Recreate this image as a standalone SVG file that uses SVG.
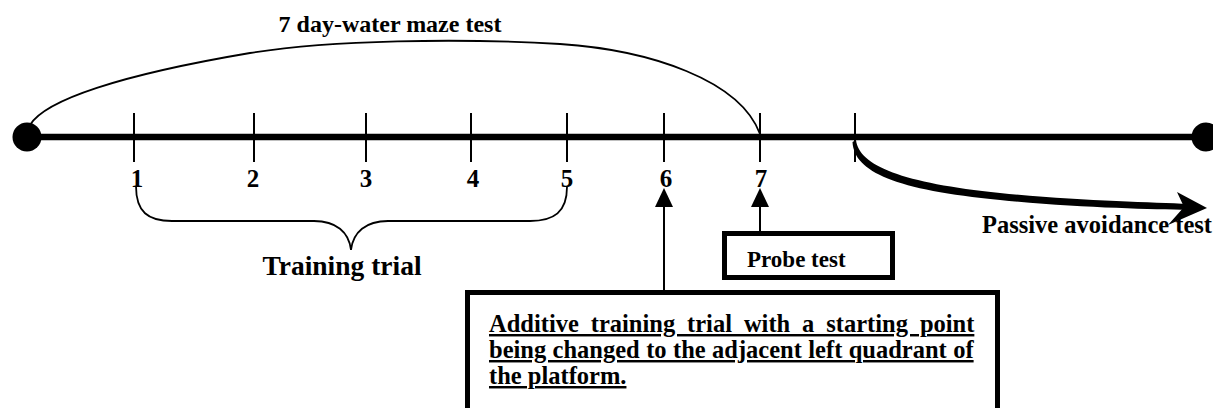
<svg xmlns="http://www.w3.org/2000/svg" width="1213" height="408" viewBox="0 0 1213 408">
  <style>
    .lbl { font-family: "Liberation Serif", "Times New Roman", serif; font-weight: bold; fill: #000; }
    .tick { stroke: #000; stroke-width: 2; fill: none; }
    .thin { stroke: #000; stroke-width: 1.8; fill: none; }
    .box { stroke: #000; stroke-width: 5; fill: #fff; }
    .num { font-size: 25px; text-anchor: middle; }
  </style>
  <defs>
    <clipPath id="boxClip">
      <rect x="470" y="295" width="505" height="113"/>
    </clipPath>
  </defs>

  <rect width="1213" height="408" fill="#fff"/>

  <!-- timeline axis with end points -->
  <g id="timeline">
    <line x1="27" y1="137" x2="1205" y2="137" stroke="#000" stroke-width="6.5"/>
    <circle cx="27" cy="137" r="14.5" fill="#000"/>
    <circle cx="1206" cy="137" r="14.5" fill="#000"/>
  </g>

  <!-- day ticks -->
  <g id="ticks">
    <line class="tick" x1="134" y1="113" x2="134" y2="162"/>
    <line class="tick" x1="254" y1="113" x2="254" y2="162"/>
    <line class="tick" x1="366" y1="113" x2="366" y2="162"/>
    <line class="tick" x1="471" y1="113" x2="471" y2="162"/>
    <line class="tick" x1="567" y1="113" x2="567" y2="162"/>
    <line class="tick" x1="664" y1="113" x2="664" y2="162"/>
    <line class="tick" x1="760" y1="113" x2="760" y2="162"/>
    <line class="tick" x1="855" y1="113" x2="855" y2="162"/>
  </g>

  <!-- day numbers -->
  <g id="days">
    <text class="lbl num" x="137" y="187">1</text>
    <text class="lbl num" x="253" y="187">2</text>
    <text class="lbl num" x="366" y="187">3</text>
    <text class="lbl num" x="473" y="187">4</text>
    <text class="lbl num" x="567" y="187">5</text>
    <text class="lbl num" x="666" y="187">6</text>
    <text class="lbl num" x="761" y="187">7</text>
  </g>

  <g id="water-maze">
    <text class="lbl" x="390" y="32" font-size="24" text-anchor="middle">7 day-water maze test</text>
  </g>

  <g id="training">
    <text class="lbl" x="342" y="275" font-size="27.5" text-anchor="middle">Training trial</text>
  </g>

  <g id="probe">
    <rect class="box" x="724.5" y="233.5" width="168" height="44"/>
    <text class="lbl" x="747" y="267" font-size="23">Probe test</text>
  </g>

  <g id="additive">
    <rect class="box" x="467.5" y="292.5" width="530" height="130"/>
    <g clip-path="url(#boxClip)" font-size="24.5" text-decoration="underline">
      <text class="lbl" x="489" y="332" word-spacing="5.8">Additive training trial with a starting point</text>
      <text class="lbl" x="489" y="358" word-spacing="0.3">being changed to the adjacent left quadrant of</text>
      <text class="lbl" x="489" y="384">the platform.</text>
    </g>
  </g>

  <g id="passive">
    <text class="lbl" x="1212" y="233" font-size="24.5" text-anchor="end">Passive avoidance test</text>
  </g>

  <!-- connectors -->
  <g id="connectors">
    <!-- span of the maze test, day 0 to day 7 -->
    <path class="thin" d="M30 125 C45 100 120 75 250 53 C330 40 460 38 560 44 C650 50 740 80 760 134"/>
    <!-- brace grouping days 1-5 -->
    <path class="thin" d="M136 186 C136 212 148 221 172 221 L314 221 C336 221 349 232 351 250 C353 232 366 221 388 221 L530 221 C554 221 567 212 567 187"/>
    <!-- pointers from the boxes to days 6 and 7 -->
    <line class="tick" x1="664" y1="205" x2="664" y2="291"/>
    <polygon points="664,188 655,207 673,207" fill="#000"/>
    <line class="tick" x1="760" y1="205" x2="760" y2="232"/>
    <polygon points="760,188 751,207 769,207" fill="#000"/>
    <!-- passive avoidance arrow, a tapering stroke -->
    <path d="M856 140 C859 166 903 183 1000 193 C1080 201 1150 202 1189 204 L1189 210 C1150 209 1080 208 1000 200 C896 190 854 172 852.5 142 Z" fill="#000"/>
    <polygon points="1177,192 1207,208 1168,225 1184,207" fill="#000"/>
  </g>
</svg>
